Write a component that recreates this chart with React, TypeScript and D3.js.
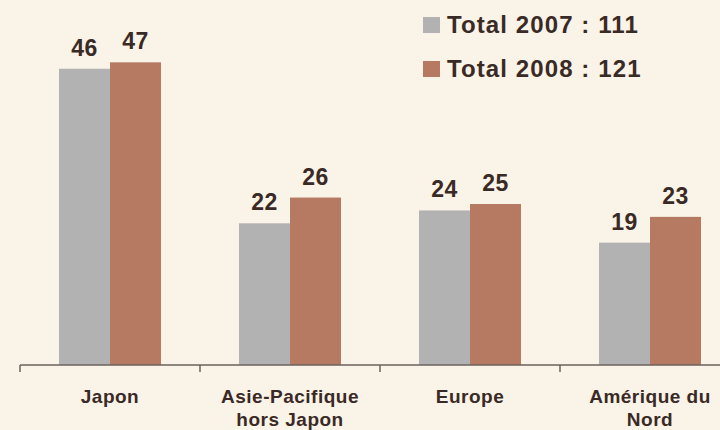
import React, { useRef, useEffect } from 'react';
import * as d3 from 'd3';

const categories = ['Japon', 'Asie-Pacifique\nhors Japon', 'Europe', 'Amérique du\nNord'];
const series = ['Total 2007 : 111', 'Total 2008 : 121'];
const values2007 = [46, 22, 24, 19];
const values2008 = [47, 26, 25, 23];
const colors = ['#b2b2b2', '#b67a62'];

const App = () => {
  const svgRef = useRef<SVGSVGElement>(null);

  useEffect(() => {
    const width = 720;
    const height = 430;
    const baseY = 365;

    const svg = d3.select(svgRef.current)
      .attr('width', width)
      .attr('height', height);

    svg.selectAll('*').remove();

    svg.append('rect')
      .attr('width', width)
      .attr('height', height)
      .attr('fill', '#faf3e8');

    const x0 = d3.scaleBand()
      .domain(categories)
      .range([20, 740])
      .padding(0);

    const x1 = d3.scaleBand()
      .domain(series)
      .range([0, x0.bandwidth()])
      .paddingInner(0)
      .paddingOuter(0.765);

    const y = d3.scaleLinear()
      .domain([0, 50])
      .range([baseY, baseY - 322]);

    const data = categories.map((c, i) => ({
      cat: c,
      vals: [values2007[i], values2008[i]],
    }));

    const groups = svg.selectAll('.grp')
      .data(data)
      .enter()
      .append('g')
      .attr('transform', d => `translate(${x0(d.cat)},0)`);

    groups.selectAll('rect')
      .data(d => d.vals.map((v, j) => ({ v, s: series[j], j })))
      .enter()
      .append('rect')
      .attr('x', d => x1(d.s))
      .attr('y', d => y(d.v))
      .attr('width', x1.bandwidth())
      .attr('height', d => baseY - y(d.v))
      .attr('fill', d => colors[d.j]);

    groups.selectAll('.lbl')
      .data(d => d.vals.map((v, j) => ({ v, s: series[j] })))
      .enter()
      .append('text')
      .attr('x', d => x1(d.s) + x1.bandwidth() / 2)
      .attr('y', d => y(d.v) - 13)
      .attr('text-anchor', 'middle')
      .attr('font-family', 'Liberation Sans, Arial, sans-serif')
      .attr('font-weight', 'bold')
      .attr('font-size', 23)
      .attr('letter-spacing', 0.5)
      .attr('fill', '#3a2a26')
      .text(d => d.v);

    // axis line and boundary ticks
    svg.append('line')
      .attr('x1', 20)
      .attr('x2', width)
      .attr('y1', baseY)
      .attr('y2', baseY)
      .attr('stroke', '#6b625e')
      .attr('stroke-width', 1.5);

    svg.selectAll('.tick')
      .data(categories)
      .enter()
      .append('line')
      .attr('x1', d => x0(d))
      .attr('x2', d => x0(d))
      .attr('y1', baseY)
      .attr('y2', baseY + 7)
      .attr('stroke', '#6b625e')
      .attr('stroke-width', 1.5);

    const catText = svg.selectAll('.cat')
      .data(categories)
      .enter()
      .append('text')
      .attr('x', d => x0(d) + x0.bandwidth() / 2)
      .attr('y', 403)
      .attr('text-anchor', 'middle')
      .attr('font-family', 'Liberation Sans, Arial, sans-serif')
      .attr('font-weight', 'bold')
      .attr('font-size', 19)
      .attr('letter-spacing', 0.5)
      .attr('fill', '#3a2a26');

    catText.each(function (d) {
      const lines = d.split('\n');
      const t = d3.select(this);
      lines.forEach((ln, i) => {
        t.append('tspan')
          .attr('x', x0(d) + x0.bandwidth() / 2)
          .attr('dy', i === 0 ? 0 : 23)
          .text(ln);
      });
    });

    // legend
    const legend = svg.selectAll('.leg')
      .data(series)
      .enter()
      .append('g')
      .attr('transform', (d, i) => `translate(423,${17 + i * 44})`);

    legend.append('rect')
      .attr('width', 17)
      .attr('height', 16)
      .attr('fill', (d, i) => colors[i]);

    legend.append('text')
      .attr('x', 24)
      .attr('y', 16)
      .attr('font-family', 'Liberation Sans, Arial, sans-serif')
      .attr('font-weight', 'bold')
      .attr('font-size', 24)
      .attr('letter-spacing', 1.1)
      .attr('fill', '#3a2a26')
      .text(d => d);
  }, []);

  return <svg ref={svgRef} style={{ position: 'absolute', left: 0, top: 0 }}></svg>;
};

export default App;
